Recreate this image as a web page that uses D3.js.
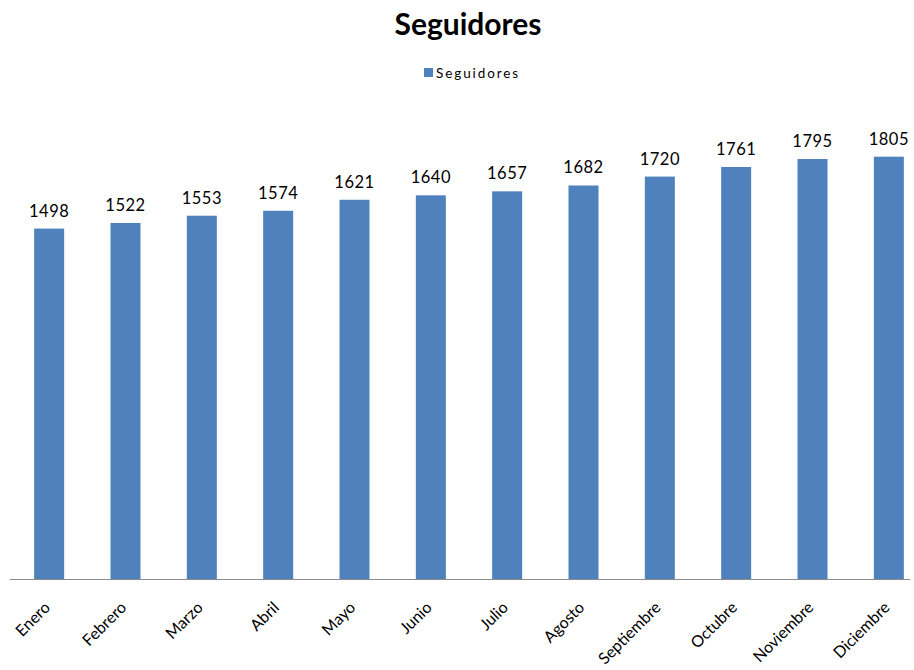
<!DOCTYPE html>
<html><head><meta charset="utf-8">
<script src="https://cdn.jsdelivr.net/npm/d3@7"></script>
<style>body{margin:0;background:#fff}</style>
</head><body>
<svg id="c" width="914" height="670"></svg>
<script>
const categories = ["Enero","Febrero","Marzo","Abril","Mayo","Junio","Julio","Agosto","Septiembre","Octubre","Noviembre","Diciembre"];
const values = [1498,1522,1553,1574,1621,1640,1657,1682,1720,1761,1795,1805];
const seriesName = "Seguidores";
const title = "Seguidores";

const svg = d3.select("#c");
const font = "Lato, 'Open Sans', sans-serif";
const baseY = 579.5;
const x = d3.scaleBand().domain(categories).range([11, 927]).paddingInner(0.607).paddingOuter(0.3035);
const y = d3.scaleLinear().domain([0, 2000]).range([baseY, 111]);

svg.append("text").attr("x", 468).attr("y", 35).attr("text-anchor", "middle")
  .attr("font-family", font).attr("font-weight", "bold").attr("font-size", 30).attr("fill", "#000").text(title);

const lg = svg.append("g");
lg.append("rect").attr("x", 424).attr("y", 68).attr("width", 9).attr("height", 9).attr("fill", "#4F81BD");
lg.append("text").attr("x", 436).attr("y", 78).attr("font-family", font).attr("font-size", 13.5)
  .attr("letter-spacing", 1.9).attr("fill", "#000").text(seriesName);

svg.append("g").selectAll("rect").data(values).join("rect")
  .attr("x", (d, i) => x(categories[i])).attr("width", x.bandwidth())
  .attr("y", d => y(d)).attr("height", d => baseY - y(d)).attr("fill", "#4F81BD");

svg.append("g").selectAll("text").data(values).join("text")
  .attr("x", (d, i) => x(categories[i]) + x.bandwidth() / 2).attr("y", d => y(d) - 12)
  .attr("text-anchor", "middle").attr("font-family", font).attr("font-size", 16.5)
  .attr("letter-spacing", 0.5).attr("fill", "#000").text(d => d);

const ax = svg.append("g").attr("transform", `translate(0,${baseY})`)
  .call(d3.axisBottom(x).tickSize(0).tickPadding(0));
ax.select(".domain").remove();
ax.append("line").attr("x1", 10).attr("x2", 910).attr("stroke", "#8c8c8c").attr("stroke-width", 1.2);
ax.selectAll(".tick text")
  .attr("font-family", font).attr("font-size", 16).attr("fill", "#000")
  .attr("text-anchor", "end").attr("dy", 0)
  .attr("transform", "translate(2,29) rotate(-45)");
</script>
</body></html>
